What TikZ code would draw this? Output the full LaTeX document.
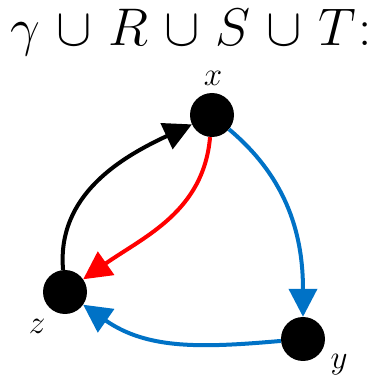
\RequirePackage{fix-cm}
\documentclass[tikz,border=0pt]{standalone}
\usetikzlibrary{arrows.meta, positioning}

\definecolor{relblue}{RGB}{0,114,198}

\begin{document}
\begin{tikzpicture}[
        x = 1pt, y = 1pt,
        >= {Triangle[length = 28pt, width = 28pt]},
        dot/.style = {circle, fill = black, minimum size = 44pt, inner sep = 0pt},
        every edge/.style = {draw, line width = 4pt},
        lbl/.style = {font = \fontsize{33}{38}\selectfont}
    ]

        \useasboundingbox (0,0) rectangle (375,381);

        \node[anchor = base, inner sep = 0pt, font = \fontsize{53}{60}\selectfont] (title) at (191,335)
            {\medmuskip = 5.5mu $\gamma\cup R\cup S\cup T$\kern2pt:};

        \node[dot] (x) at (212,266) {};
        \node[dot] (y) at (303,42) {};
        \node[dot] (z) at (65,89) {};

        \node[lbl] (lx) at (213,303) {$x$};
        \node[lbl] (ly) at (339,16) {$y$};
        \node[lbl] (lz) at (37,55) {$z$};

        \path[->]
            (z) edge [black, out = 95, in = 205] (x)
            (x) edge [red, out = -95, in = 35] (z)
            (x) edge [relblue, out = -40, in = 90] (y)
            (y) edge [relblue, out = 185, in = -35] (z);

    \end{tikzpicture}
\end{document}
